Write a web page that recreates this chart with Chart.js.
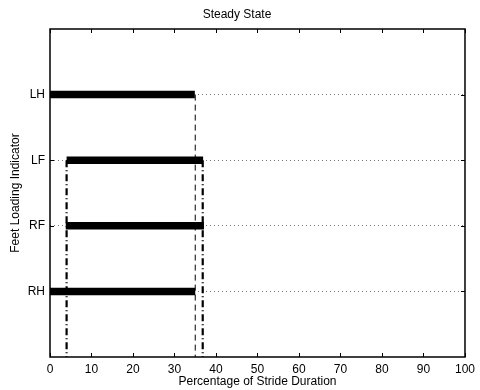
<!DOCTYPE html>
<html>
<head>
<meta charset="utf-8">
<script src="https://cdn.jsdelivr.net/npm/chart.js@4"></script>
<style>
html,body{margin:0;padding:0;background:#fff}
#wrap{width:480px;height:390px}
</style>
</head>
<body>
<div id="wrap"><canvas id="grafico"></canvas></div>
<script>
// stance phase of each foot, in % of stride
const pes = ['RH', 'RF', 'LF', 'LH'];
const inicioApoio = [0, 3.8, 4, 0];
const fimApoio = [35, 37.1, 36.9, 34.9];

// vertical reference lines: x position, level they start from, style
const refX = [35, 4, 36.8];
const refTopo = [4, 3, 3];
const refDash = [[6, 4], [7, 3, 1, 3], [7, 3, 1, 3]];
const refLargura = [1, 2.2, 2.2];

const xTicks = [0, 10, 20, 30, 40, 50, 60, 70, 80, 90, 100];

const fonte = 'Liberation Sans, Arial, Helvetica, sans-serif';

const datasets = [];
pes.forEach((p, i) => {
  datasets.push({
    label: p,
    data: [{x: inicioApoio[i], y: i + 1}, {x: fimApoio[i], y: i + 1}],
    showLine: true,
    borderColor: '#000',
    borderWidth: 7.5,
    borderCapStyle: 'butt',
    pointRadius: 0
  });
});
refX.forEach((x, i) => {
  datasets.push({
    label: 'ref' + i,
    data: [{x: x, y: refTopo[i]}, {x: x, y: 0}],
    showLine: true,
    borderColor: '#000',
    borderWidth: refLargura[i],
    borderDash: refDash[i],
    borderCapStyle: 'butt',
    pointRadius: 0
  });
});

// box around the axes with inward ticks
const moldura = {
  id: 'moldura',
  afterDatasetsDraw(chart) {
    const {ctx, chartArea: a, scales} = chart;
    ctx.save();
    ctx.strokeStyle = '#000';
    ctx.lineWidth = 1;
    ctx.beginPath();
    xTicks.forEach(v => {
      const px = Math.round(scales.x.getPixelForValue(v)) + 0.5;
      ctx.moveTo(px, a.bottom); ctx.lineTo(px, a.bottom - 4);
      ctx.moveTo(px, a.top); ctx.lineTo(px, a.top + 4);
    });
    pes.forEach((p, i) => {
      const py = Math.round(scales.y.getPixelForValue(i + 1)) + 0.5;
      ctx.moveTo(a.left, py); ctx.lineTo(a.left + 4, py);
      ctx.moveTo(a.right, py); ctx.lineTo(a.right - 4, py);
    });
    ctx.stroke();
    ctx.lineWidth = 1.5;
    ctx.strokeRect(a.left, a.top, a.right - a.left, a.bottom - a.top);
    ctx.restore();
  }
};

new Chart(document.getElementById('grafico'), {
  type: 'scatter',
  data: {datasets},
  plugins: [moldura],
  options: {
    responsive: true,
    maintainAspectRatio: false,
    animation: false,
    layout: {padding: {left: 8, right: 14, top: 0, bottom: 1}},
    plugins: {
      legend: {display: false},
      tooltip: {enabled: false},
      title: {
        display: true,
        text: 'Steady State',
        color: '#000',
        font: {family: fonte, size: 12, weight: 'normal'},
        padding: {top: 7, bottom: 7.6}
      }
    },
    scales: {
      x: {
        type: 'linear',
        min: 0, max: 100,
        afterBuildTicks: s => { s.ticks = xTicks.map(v => ({value: v})); },
        afterFit: s => { s.height = 32; },
        grid: {display: false, drawTicks: false},
        border: {display: false},
        ticks: {color: '#000', font: {family: fonte, size: 12}, padding: 5, maxRotation: 0},
        title: {
          display: true,
          text: 'Percentage of Stride Duration',
          color: '#000',
          font: {family: fonte, size: 12},
          padding: 0
        }
      },
      y: {
        type: 'linear',
        min: 0, max: 5,
        afterBuildTicks: s => { s.ticks = [0, 1, 2, 3, 4, 5].map(v => ({value: v})); },
        afterFit: s => { s.width = 42; },
        grid: {
          drawTicks: false,
          color: c => (c.tick && c.tick.value >= 1 && c.tick.value <= 4) ? '#777' : 'rgba(0,0,0,0)',
          lineWidth: 1
        },
        border: {display: false, dash: [1, 3]},
        ticks: {
          color: '#000',
          font: {family: fonte, size: 12},
          padding: 5,
          callback: v => pes[v - 1] || ''
        },
        title: {
          display: true,
          text: 'Feet Loading Indicator',
          color: '#000',
          font: {family: fonte, size: 12},
          padding: 0
        }
      }
    }
  }
});
</script>
</body>
</html>
